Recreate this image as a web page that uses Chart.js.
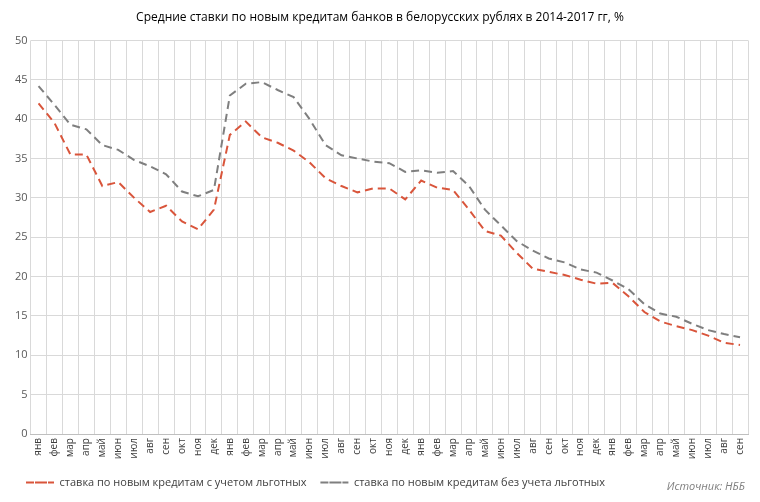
<!DOCTYPE html>
<html><head><meta charset="utf-8">
<script src="https://cdn.jsdelivr.net/npm/chart.js@4/dist/chart.umd.min.js"></script>
<style>body{margin:0;background:#fff}#w{width:760px;height:502px}</style>
</head><body><div id="w"><canvas id="c"></canvas></div>
<script>
const months=["янв","фев","мар","апр","май","июн","июл","авг","сен","окт","ноя","дек"];
const labels=[...months,...months,...months,...months.slice(0,9)];
const withSubsidized=[42,39.5,35.5,35.5,31.5,32,30,28.2,29,27,26,28.5,
38,39.7,37.7,37,36,34.5,32.5,31.5,30.7,31.2,31.2,29.8,
32.2,31.3,31,28.5,25.8,25.2,23,21,20.6,20.2,19.6,19.1,
19.2,17.5,15.5,14.3,13.7,13.2,12.5,11.6,11.3];
const withoutSubsidized=[44.2,41.8,39.3,38.7,36.7,36.1,34.8,34,33,30.8,30.2,31,
43,44.5,44.7,43.7,42.8,40,36.7,35.4,35,34.6,34.4,33.3,
33.5,33.2,33.4,31.5,28.5,26.5,24.5,23.3,22.3,21.8,20.9,20.5,
19.5,18.4,16.5,15.3,14.9,14,13.2,12.7,12.3];
const src={id:'src',afterDraw(ch){const c=ch.ctx;c.save();c.font='italic 11px "Open Sans", sans-serif';c.fillStyle='#7f7f7f';c.textAlign='right';c.fillText('Источник: НББ',745,487);c.restore();}};
new Chart(document.getElementById('c'),{type:'line',
data:{labels,datasets:[
{label:'ставка по новым кредитам с учетом льготных',data:withSubsidized,borderColor:'#d9553b',backgroundColor:'#d9553b',borderWidth:2,borderDash:[8,5],pointRadius:0,tension:0},
{label:'ставка по новым кредитам без учета льготных',data:withoutSubsidized,borderColor:'#7f7f7f',backgroundColor:'#7f7f7f',borderWidth:2,borderDash:[8,5],pointRadius:0,tension:0}]},
options:{animation:false,responsive:true,maintainAspectRatio:false,
layout:{padding:{left:12,right:12,top:6,bottom:4}},
plugins:{title:{display:true,text:'Средние ставки по новым кредитам банков в белорусских рублях в 2014-2017 гг, %',color:'#000',font:{family:'"Open Sans", sans-serif',size:12,weight:'normal'},padding:{top:4,bottom:16}},
legend:{position:'bottom',align:'start',labels:{boxWidth:28,boxHeight:0,color:'#404040',font:{family:'"Open Sans", sans-serif',size:11},padding:14,
generateLabels(ch){return ch.data.datasets.map((d,i)=>({text:d.label,strokeStyle:d.borderColor,fillStyle:'transparent',lineWidth:2,lineDash:[8,5],datasetIndex:i,fontColor:'#404040'}));}}},
tooltip:{enabled:false}},
scales:{x:{offset:true,grid:{color:'#d9d9d9',offset:true,drawTicks:false},border:{color:'#bfbfbf'},
ticks:{minRotation:90,maxRotation:90,autoSkip:false,color:'#404040',padding:4,font:{family:'"Open Sans", sans-serif',size:10}}},
y:{min:0,max:50,ticks:{stepSize:5,color:'#595959',font:{family:'"Open Sans", sans-serif',size:11}},grid:{color:'#d9d9d9',drawTicks:false},border:{display:false}}}},
plugins:[src]});
</script></body></html>
